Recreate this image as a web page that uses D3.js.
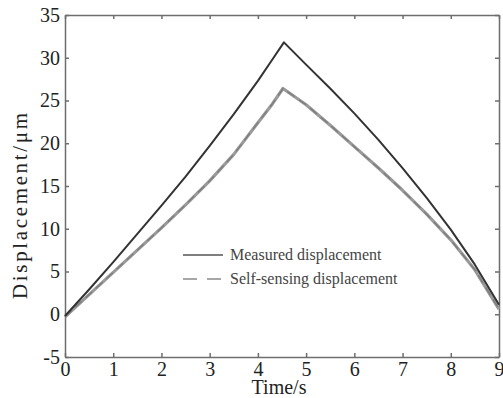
<!DOCTYPE html>
<html>
<head>
<meta charset="utf-8">
<script src="https://cdn.jsdelivr.net/npm/d3@7"></script>
<style>
  body { margin: 0; background: #fff; }
</style>
</head>
<body>
<svg id="chart"></svg>
<script>
// data
var measuredTime = [0, 0.5, 1, 1.5, 2, 2.5, 3, 3.5, 4, 4.3, 4.54, 5, 5.5, 6, 6.5, 7, 7.5, 8, 8.5, 9];
var measuredDisp = [-0.2, 2.9, 6.1, 9.4, 12.7, 16.1, 19.7, 23.4, 27.3, 29.8, 31.8, 29.2, 26.4, 23.5, 20.4, 17.1, 13.6, 9.9, 5.8, 1.1];

var sensingTime = [0, 0.5, 1, 1.5, 2, 2.5, 3, 3.5, 4, 4.3, 4.52, 5, 5.5, 6, 6.5, 7, 7.5, 8, 8.5, 9];
var sensingDisp = [-0.3, 2.3, 4.9, 7.5, 10.1, 12.8, 15.6, 18.7, 22.4, 24.6, 26.4, 24.5, 22.1, 19.6, 17.1, 14.5, 11.7, 8.7, 5.2, 0.6];

var xTicks = [0, 1, 2, 3, 4, 5, 6, 7, 8, 9];
var yTicks = [-5, 0, 5, 10, 15, 20, 25, 30, 35];
var legendLabels = ["Measured displacement", "Self-sensing displacement"];

var W = 503, H = 398;
var margin = { top: 15, right: 4, bottom: 41, left: 65 };
var serif = '"Liberation Serif", "Times New Roman", serif';

var svg = d3.select("#chart").attr("width", W).attr("height", H);

var x = d3.scaleLinear().domain([0, 9]).range([margin.left, W - margin.right]);
var y = d3.scaleLinear().domain([-5, 35]).range([H - margin.bottom, margin.top]);

var axisColor = "#6e6e6e";
var plain = function (d) { return String(d); }; // keep "-5" with a hyphen

// axes, ticks pointing inward, mirrored on top/right
var xb = svg.append("g")
    .attr("transform", "translate(0," + y(-5) + ")")
    .call(d3.axisBottom(x).tickValues(xTicks).tickFormat(plain).tickSizeInner(-4).tickSizeOuter(0).tickPadding(5));
var xt = svg.append("g")
    .attr("transform", "translate(0," + y(35) + ")")
    .call(d3.axisTop(x).tickValues(xTicks).tickSizeInner(-4).tickSizeOuter(0).tickFormat(""));
var yl = svg.append("g")
    .attr("transform", "translate(" + x(0) + ",0)")
    .call(d3.axisLeft(y).tickValues(yTicks).tickFormat(plain).tickSizeInner(-4).tickSizeOuter(0).tickPadding(5));
var yr = svg.append("g")
    .attr("transform", "translate(" + x(9) + ",0)")
    .call(d3.axisRight(y).tickValues(yTicks).tickSizeInner(-4).tickSizeOuter(0).tickFormat(""));

[xb, xt, yl, yr].forEach(function (g) {
    g.attr("font-family", null).attr("font-size", null);
    g.selectAll("path, line").attr("stroke", axisColor).attr("stroke-width", 1.5);
    g.selectAll("text").attr("fill", "#222").style("font-family", serif).style("font-size", "20px");
});

// lines
var lineOf = function (ts, vs) {
    return d3.line()
        .x(function (d, i) { return x(ts[i]); })
        .y(function (d, i) { return y(vs[i]); })(vs);
};

svg.append("path")
    .attr("d", lineOf(sensingTime, sensingDisp))
    .attr("fill", "none")
    .attr("stroke", "#9a9a9a")
    .attr("stroke-width", 3.2)
    .attr("stroke-linejoin", "round");
svg.append("path")
    .attr("d", lineOf(sensingTime, sensingDisp))
    .attr("fill", "none")
    .attr("stroke", "#7c7c7c")
    .attr("stroke-width", 1.3)
    .attr("stroke-dasharray", "9,5");

svg.append("path")
    .attr("d", lineOf(measuredTime, measuredDisp))
    .attr("fill", "none")
    .attr("stroke", "#333")
    .attr("stroke-width", 2)
    .attr("stroke-linejoin", "round");

// axis titles
svg.append("text")
    .attr("x", (x(0) + x(9)) / 2 - 3)
    .attr("y", 394)
    .attr("text-anchor", "middle")
    .attr("fill", "#222")
    .style("font-family", serif)
    .style("font-size", "20px")
    .text("Time/s");

svg.append("text")
    .attr("transform", "translate(27,206) rotate(-90)")
    .attr("x", -93)
    .attr("textLength", 186)
    .attr("lengthAdjust", "spacing")
    .attr("fill", "#222")
    .style("font-family", serif)
    .style("font-size", "21px")
    .text("Displacement/μm");

// legend
var legend = svg.append("g");
legend.append("line")
    .attr("x1", 183).attr("x2", 223).attr("y1", 255).attr("y2", 255)
    .attr("stroke", "#555").attr("stroke-width", 1.6);
legend.append("line")
    .attr("x1", 183).attr("x2", 223).attr("y1", 279).attr("y2", 279)
    .attr("stroke", "#8a8a8a").attr("stroke-width", 1.6)
    .attr("stroke-dasharray", "14,10");
legend.selectAll("text.lg")
    .data(legendLabels)
    .enter()
    .append("text")
    .attr("class", "lg")
    .attr("x", 230)
    .attr("y", function (d, i) { return 260 + i * 24; })
    .attr("fill", "#444")
    .style("font-family", serif)
    .style("font-size", "16px")
    .text(function (d) { return d; });
</script>
</body>
</html>
